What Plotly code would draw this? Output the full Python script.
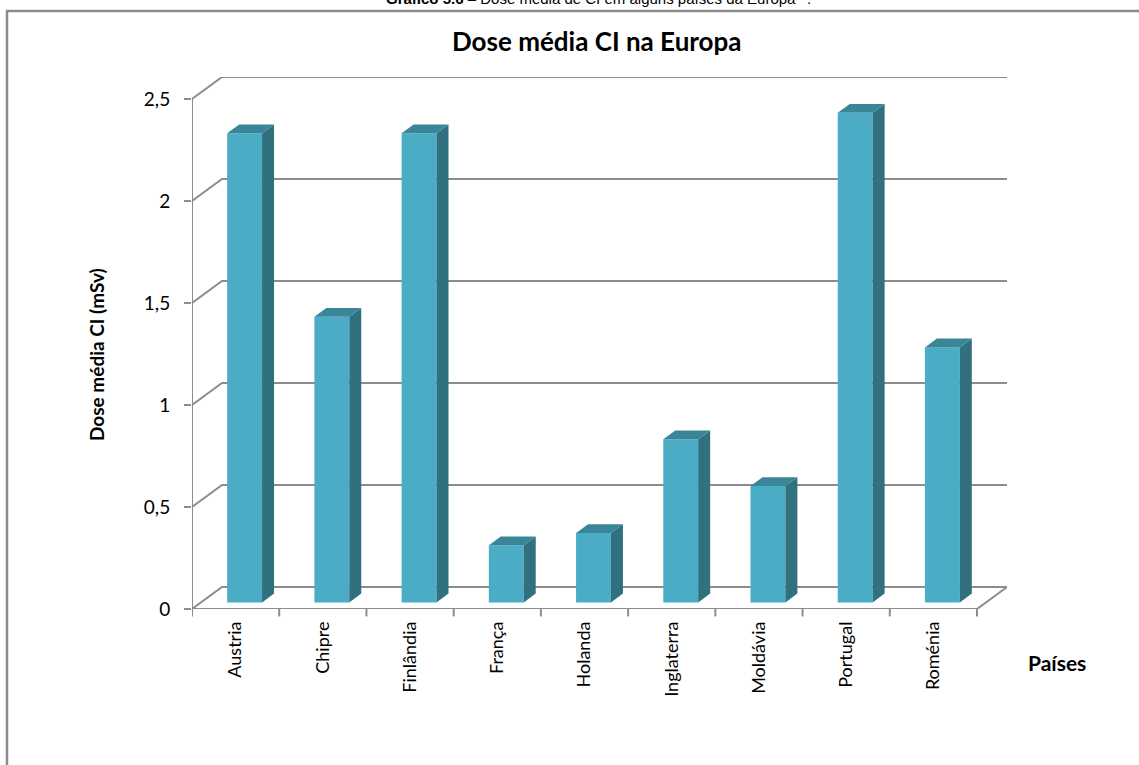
import plotly.graph_objects as go

# ---- data ----
countries = ["Austria", "Chipre", "Finlândia", "França", "Holanda",
             "Inglaterra", "Moldávia", "Portugal", "Roménia"]
dose = [2.3, 1.4, 2.3, 0.28, 0.34, 0.8, 0.57, 2.4, 1.25]
y_ticks = [0, 0.5, 1, 1.5, 2, 2.5]
y_tick_labels = ["0", "0,5", "1", "1,5", "2", "2,5"]

title = "Dose média CI na Europa"
y_title = "Dose média CI (mSv)"
x_title = "Países"
caption = "<b>Gráfico 5.6</b> – Dose média de CI em alguns países da Europa<sup>40</sup>."

# ---- 3D projection style ----
DX = 0.344      # depth offset in category units
DY = 0.108      # depth offset in value units
F0, F1 = 0.3, 0.7   # bar depth span (fraction)
BW = 0.4        # bar width (fraction of category)
n = len(countries)
ymax = max(y_ticks)

FRONT = "#4bacc6"
SIDE = "#31707f"
TOP = "#3a8698"
GRID = "#8c8c8c"

fig = go.Figure()

def line(xs, ys, color=GRID, width=2):
    fig.add_trace(go.Scatter(x=xs, y=ys, mode="lines",
                             line=dict(color=color, width=width),
                             hoverinfo="skip", showlegend=False))

# back wall gridlines + left wall diagonals
for v in y_ticks:
    line([0, DX, n + DX], [v, v + DY, v + DY])
# floor edges
line([0, n, n + DX], [0, 0, DY])
# front value axis
line([0, 0], [0, ymax])

# bars
for i, (c, v) in enumerate(zip(countries, dose)):
    x0 = i + 0.5 - BW / 2 + F0 * DX
    x1 = x0 + BW
    b = F0 * DY
    ddx = (F1 - F0) * DX
    ddy = (F1 - F0) * DY
    # front face
    fig.add_trace(go.Scatter(x=[x0, x1, x1, x0, x0], y=[b, b, v + b, v + b, b],
                             fill="toself", fillcolor=FRONT, mode="lines",
                             line=dict(width=0, color=FRONT),
                             hoverinfo="skip", showlegend=False))
    # side face
    fig.add_trace(go.Scatter(x=[x1, x1 + ddx, x1 + ddx, x1, x1],
                             y=[b, b + ddy, v + b + ddy, v + b, b],
                             fill="toself", fillcolor=SIDE, mode="lines",
                             line=dict(width=0, color=SIDE),
                             hoverinfo="skip", showlegend=False))
    # top face
    fig.add_trace(go.Scatter(x=[x0, x1, x1 + ddx, x0 + ddx, x0],
                             y=[v + b, v + b, v + b + ddy, v + b + ddy, v + b],
                             fill="toself", fillcolor=TOP, mode="lines",
                             line=dict(width=0, color=TOP),
                             hoverinfo="skip", showlegend=False))

# category tick marks (boundaries)
shapes = []
for k in range(n + 1):
    shapes.append(dict(type="line", xref="x", yref="paper", x0=k, x1=k,
                       y0=0, y1=-0.014, line=dict(color=GRID, width=2)))

# outer frame
L, R, T, B = 192, 1007, 77, 609
W, H = R - L, B - T
px = lambda p: (p - L) / W
py = lambda p: (B - p) / H
shapes.append(dict(type="rect", xref="paper", yref="paper",
                   x0=px(7), x1=px(1160), y0=py(11), y1=py(790),
                   line=dict(color=GRID, width=2.5), fillcolor="rgba(0,0,0,0)"))

fig.update_layout(
    width=1139, height=765,
    margin=dict(l=L, r=1139 - R, t=T, b=765 - B),
    paper_bgcolor="white", plot_bgcolor="white",
    showlegend=False,
    font=dict(family="Lato", color="black"),
    xaxis=dict(range=[0, n + DX], showgrid=False, zeroline=False, showline=False,
               tickmode="array", tickvals=[i + 0.5 for i in range(n)],
               ticktext=countries, tickangle=-90, ticks="", ticklabelstandoff=8,
               tickfont=dict(size=18, family="Lato"), fixedrange=True),
    yaxis=dict(range=[0, ymax + DY], showgrid=False, zeroline=False, showline=False,
               tickmode="array", tickvals=y_ticks, ticktext=y_tick_labels,
               ticks="outside", ticklen=7, tickwidth=2, tickcolor=GRID,
               ticklabelstandoff=10,
               tickfont=dict(size=19, family="Lato"), fixedrange=True),
    shapes=shapes,
    annotations=[
        dict(text="<b>" + title + "</b>", xref="paper", yref="paper",
             x=px(597), y=py(41), xanchor="center", yanchor="middle",
             showarrow=False, font=dict(size=26, family="Lato")),
        dict(text="<b>" + y_title + "</b>", xref="paper", yref="paper",
             x=px(97), y=py(355), xanchor="center", yanchor="middle",
             textangle=-90, showarrow=False,
             font=dict(size=19, family="Lato")),
        dict(text="<b>" + x_title + "</b>", xref="paper", yref="paper",
             x=px(1057), y=py(662), xanchor="center", yanchor="middle",
             showarrow=False, font=dict(size=21, family="Lato")),
        dict(text=caption, xref="paper", yref="paper",
             x=px(598), y=py(-3), xanchor="center", yanchor="middle",
             showarrow=False,
             font=dict(size=15, family="Liberation Sans")),
    ],
)

fig.write_html("out.html")
